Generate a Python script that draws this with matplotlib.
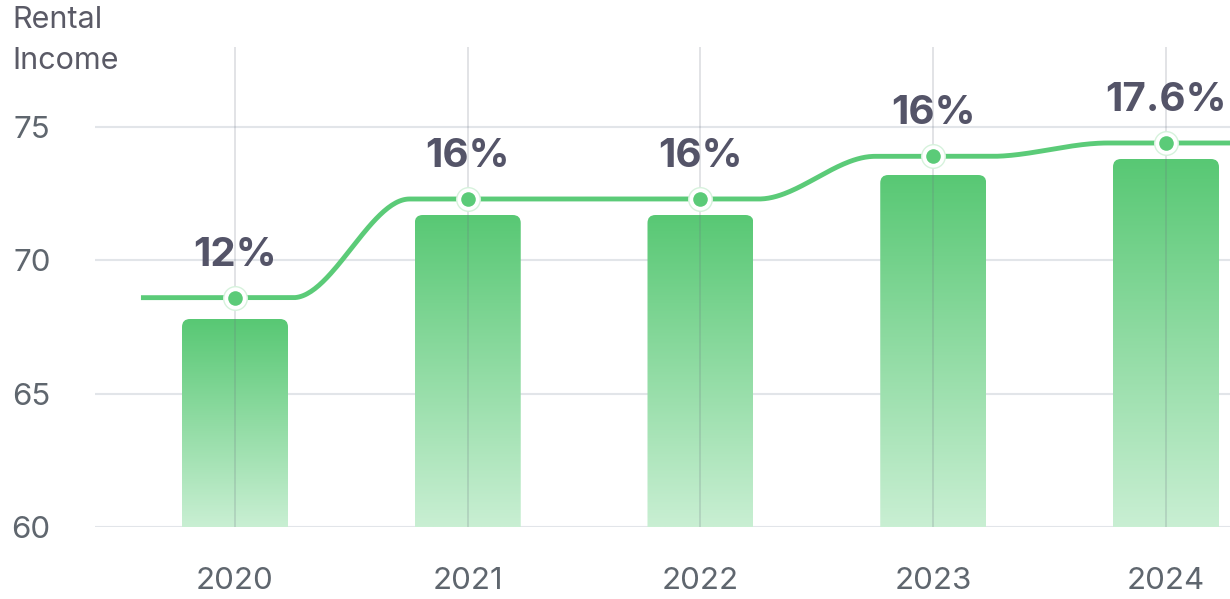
import numpy as np
import matplotlib
matplotlib.use('Agg')
import matplotlib.pyplot as plt
from matplotlib.patches import FancyBboxPatch
from matplotlib.colors import LinearSegmentedColormap

# ---- data ----
years = ['2020', '2021', '2022', '2023', '2024']
bar_values = [67.8, 71.7, 71.7, 73.2, 73.8]
line_values = [68.6, 72.3, 72.3, 73.9, 74.4]
pct_labels = ['12%', '16%', '16%', '16%', '17.6%']
yticks = [60, 65, 70, 75]
y_title = 'Rental\nIncome'

# ---- style ----
plt.rcParams['font.family'] = ['Inter', 'DejaVu Sans']
GREEN = '#5bcb78'
TOP_C = '#58c874'
BOT_C = '#c9efd3'
GRID = '#e2e5e9'
TICK_C = '#5f666e'
LABEL_C = '#545468'

W, H = 1230, 599
fig = plt.figure(figsize=(W / 100, H / 100), dpi=100)
ax = fig.add_axes([95 / W, 1 - 527 / H, 1 - 95 / W, (527 - 47) / H])
x = np.arange(len(years))
xlo, xhi = -0.6015, 4.275
ylo, yhi = 60, 78
ax.set_xlim(xlo, xhi)
ax.set_ylim(ylo, yhi)

px_x = (W - 95) / (xhi - xlo)
px_y = (527 - 47) / (yhi - ylo)

# horizontal grid
for v in yticks:
    ax.axhline(v, color=GRID, lw=1.5, zorder=0)

# bars with gradient
cmap = LinearSegmentedColormap.from_list('g', [BOT_C, TOP_C])
bw = 106 / px_x
r = 8 / px_x
grad = np.linspace(0, 1, 256).reshape(-1, 1)
for xi, v in zip(x, bar_values):
    patch = FancyBboxPatch((xi - bw / 2, ylo - 1), bw, v - ylo + 1,
                           boxstyle=f'round,pad=0,rounding_size={r}',
                           mutation_aspect=px_x / px_y,
                           facecolor='none', edgecolor='none', zorder=2)
    ax.add_patch(patch)
    im = ax.imshow(grad, cmap=cmap, extent=(xi - bw / 2, xi + bw / 2, ylo, v),
                   origin='lower', aspect='auto', zorder=2, interpolation='bilinear')
    im.set_clip_path(patch)

# vertical grid lines (over bars, semi-transparent)
ax.vlines(x, ylo, yhi, color='#6b7280', alpha=0.2, lw=1.4, zorder=3)

# smoothed step line
f = 0.25
xs, ys = [-0.404, x[0]], [line_values[0], line_values[0]]
for i in range(len(x) - 1):
    a, b = x[i] + f, x[i + 1] - f
    t = np.linspace(0, 1, 60)
    s = t * t * (3 - 2 * t)
    xs += list(a + (b - a) * t)
    ys += list(line_values[i] + (line_values[i + 1] - line_values[i]) * s)
    xs.append(x[i + 1]); ys.append(line_values[i + 1])
xs.append(xhi + 0.5); ys.append(line_values[-1])
ax.plot(xs, ys, color=GREEN, lw=3.5, zorder=4, solid_capstyle='butt', clip_on=True)

ax.plot(x, line_values, 'o', ms=17, mfc='white', mec='#d6f2dc', mew=1.0, zorder=5, clip_on=False)
ax.plot(x, line_values, 'o', ms=10.5, mfc=GREEN, mec='none', zorder=6, clip_on=False)

for xi, v, lab in zip(x, line_values, pct_labels):
    ax.annotate(lab, (xi, v), xytext=(0, 23), textcoords='offset points',
                ha='center', va='baseline', fontsize=29, fontweight='bold',
                color=LABEL_C, zorder=7)

# axes styling
for s in ax.spines.values():
    s.set_visible(False)
ax.set_xticks(x)
ax.set_xticklabels(years)
ax.set_yticks(yticks)
ax.set_yticklabels([str(v) for v in yticks])
ax.tick_params(axis='both', length=0, labelsize=22.5, labelcolor=TICK_C)
ax.tick_params(axis='x', pad=29)
ax.tick_params(axis='y', pad=32)

fig.text(12 / W, 1 - 6 / H, y_title, ha='left', va='top', fontsize=22,
         color='#5a5a66', linespacing=1.6)

fig.savefig('out.png', dpi=100)
